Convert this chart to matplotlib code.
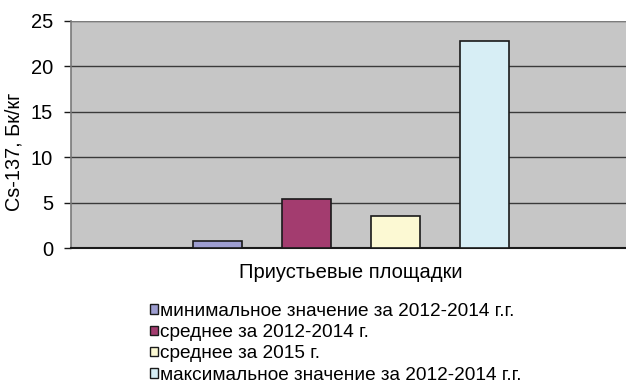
import matplotlib.pyplot as plt
from matplotlib.patches import Patch
import numpy as np

plt.rcParams['font.family'] = ['Liberation Sans', 'DejaVu Sans']

# Cs-137 at the wellhead sites, Bq/kg
series = ['минимальное значение за 2012-2014 г.г.',
          'среднее за 2012-2014 г.',
          'среднее за 2015 г.',
          'максимальное значение за 2012-2014 г.г.']
values = [0.75, 5.45, 3.5, 22.8]
colors = ['#9D9DD0', '#A33C6F', '#FCF9D3', '#D7EEF5']
category = 'Приустьевые площадки'

fig = plt.figure(figsize=(6.26, 3.89), dpi=100)
ax = fig.add_axes([71/626, 1-248.3/389, 1-71/626, (248.3-20.7)/389])
ax.set_facecolor('#C6C6C6')

offsets = np.arange(len(values)) - 1.5
ax.bar(offsets, values, width=0.556, color=colors, edgecolor='#1a1a1a',
       linewidth=1.2, zorder=3)

ax.set_ylim(0, 25)
ax.set_yticks(range(0, 26, 5))
ax.set_xlim(-3.146, 3.09)
ax.set_xticks([])
ax.yaxis.grid(True, color='#3a3a3a', linewidth=1.0, zorder=1)
ax.set_axisbelow(True)

for s in ['top', 'right']:
    ax.spines[s].set_visible(False)
ax.spines['left'].set_color('#7a7a7a')
ax.spines['left'].set_linewidth(1.2)
ax.spines['bottom'].set_color('#1a1a1a')
ax.spines['bottom'].set_linewidth(1.5)
ax.axhline(25, color='#8a8a8a', linewidth=1.2, zorder=2)
ax.tick_params(axis='y', length=5, width=1, color='#1a1a1a', pad=8, labelsize=14.5)

fig.text(14/626, 1-152/389, 'Cs-137, Бк/кг', rotation=90, fontsize=14.3,
         ha='center', va='center')
fig.text(351/626, 1-273/389, category, fontsize=14.5, ha='center', va='center')

handles = [Patch(facecolor=c, edgecolor='#1a1a1a', linewidth=1) for c in colors]
fig.legend(handles, series, loc='upper left', bbox_to_anchor=(150/626, 1-303/389),
           frameon=False, fontsize=13.7, handlelength=0.4, handleheight=0.4,
           handletextpad=0.15, labelspacing=0.22, borderpad=0, borderaxespad=0)

fig.savefig('out.png', dpi=100)
